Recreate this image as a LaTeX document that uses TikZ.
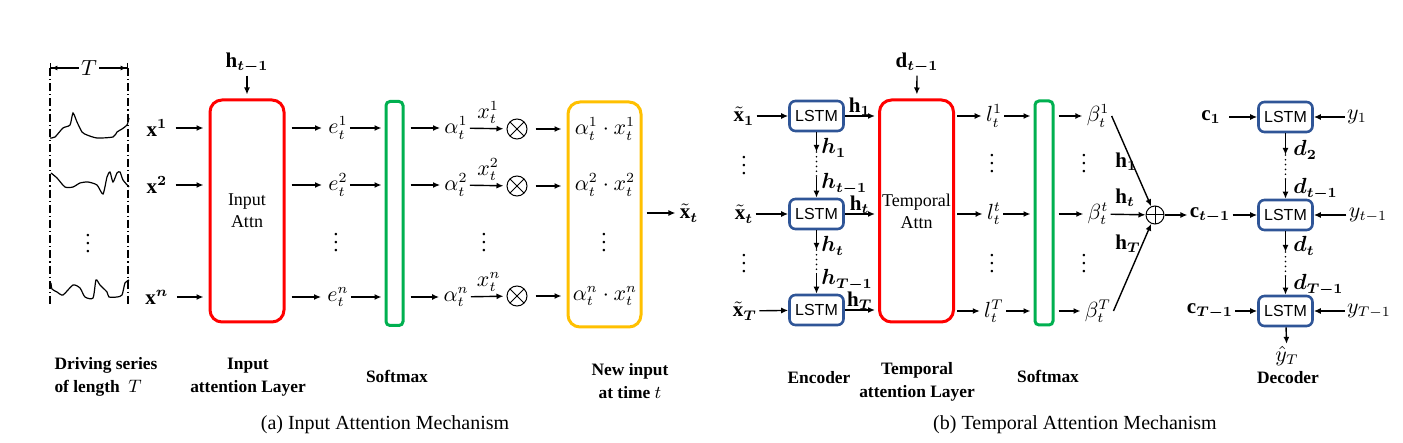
\documentclass[tikz,border=0pt]{standalone}
\usepackage{amsmath,bm}
\usepackage{fontspec}
\setmainfont{Liberation Serif}
\newfontfamily\lstmfont{Liberation Sans}
\usetikzlibrary{arrows.meta}

\definecolor{attnred}{RGB}{255,0,0}
\definecolor{softgreen}{RGB}{0,176,80}
\definecolor{newyellow}{RGB}{255,192,0}
\definecolor{lstmblue}{RGB}{47,85,151}

\begin{document}
\begin{tikzpicture}[x=0.5pt,y=-0.5pt,
    font=\fontsize{10.5}{12}\selectfont,
    every node/.style={inner sep=1pt},
    arr/.style={-{Latex[length=3.5pt,width=3pt]}, line width=0.7pt},
    tbar/.style={-{Latex[length=3pt,width=2.5pt]Bar[width=5pt]}, line width=0.7pt},
    dashdot/.style={line width=0.6pt, dash pattern=on 4pt off 1.5pt on 0.6pt off 1.5pt},
    wave/.style={line width=0.6pt, smooth, tension=0.4},
    chain/.style={line width=0.9pt, line cap=round, dash pattern=on 0pt off 2.4pt},
    capt/.style={font=\fontsize{8.7}{11.5}\selectfont\bfseries, align=center},
    attnbox/.style={draw=attnred, line width=1.5pt, rounded corners=6pt, minimum width=37pt,
      minimum height=111pt, align=center, font=\fontsize{9}{11}\selectfont},
    softbox/.style={draw=softgreen, line width=1.5pt, rounded corners=2pt, minimum width=8.5pt,
      minimum height=112pt},
    newbox/.style={draw=newyellow, line width=1.5pt, rounded corners=6pt, minimum width=36.5pt,
      minimum height=112.5pt},
    lstm/.style={draw=lstmblue, line width=1.3pt, rounded corners=3pt, minimum width=27pt,
      minimum height=15pt, font=\lstmfont\fontsize{8}{9}\selectfont},
    otimes/.style={circle, draw, line width=0.5pt, minimum size=10pt, inner sep=0pt,
      path picture={\draw[line width=0.5pt]
        (path picture bounding box.north west) -- (path picture bounding box.south east)
        (path picture bounding box.north east) -- (path picture bounding box.south west);}},
    oplus/.style={circle, draw, line width=0.5pt, minimum size=9pt, inner sep=0pt,
      path picture={\draw[line width=0.5pt]
        (path picture bounding box.north) -- (path picture bounding box.south)
        (path picture bounding box.east) -- (path picture bounding box.west);}}]
  \useasboundingbox (0,0) rectangle (1403,443);

  % (a) input attention
  \coordinate (tl) at (50,68);
  \coordinate (tr) at (128,68);
  \coordinate (bl) at (50,305);
  \coordinate (br) at (128,305);
  \node (T) at (89,68) {$T$};
  \draw[tbar] (T) -- (tl);
  \draw[tbar] (T) -- (tr);
  \draw[dashdot] (tl) -- (bl);
  \draw[dashdot] (tr) -- (br);
  \draw[wave] plot coordinates {(50,138) (55,137) (63,128) (70,125) (73,113) (77,122) (82,132)
    (87,135) (97,138) (113,137) (117,132) (122,129) (127,125) (129,118)};
  \draw[wave] plot coordinates {(51,173) (57,178) (65,187) (73,187) (80,183) (88,182) (97,185)
    (103,194) (107,177) (110,172) (113,182) (117,173) (120,172) (123,180) (129,187)};
  \draw[wave] plot coordinates {(51,283) (52,289) (57,292) (63,295) (73,285) (80,288) (85,297)
    (93,298) (96,280) (100,285) (107,292) (109,297) (117,297) (122,295) (125,283) (129,280)};
  \node (sdots) at (88,238) {$\vdots$};

  \node (xa) at (157,128) {$\mathbf{x}^{\bm{1}}$};
  \node (xb) at (157,185) {$\mathbf{x}^{\bm{2}}$};
  \node (xn) at (157,297) {$\mathbf{x}^{\bm{n}}$};

  \node[attnbox] (attn) at (247,211) {Input\\Attn};
  \node (hprev) at (247,63) {$\mathbf{h}_{\bm{t-1}}$};
  \draw[arr, shorten >=2pt] (hprev) -- (attn);
  \draw[arr, shorten <=3pt, shorten >=2.5pt] (xa) -- (xa -| attn.west);
  \draw[arr, shorten <=3pt, shorten >=2.5pt] (xb) -- (xb -| attn.west);
  \draw[arr, shorten <=3pt, shorten >=2.5pt] (xn) -- (xn -| attn.west);

  \node (ea) at (338,128) {$e_t^1$};
  \node (eb) at (338,185) {$e_t^2$};
  \node (edots) at (336,237) {$\vdots$};
  \node (en) at (338,297) {$e_t^n$};
  \draw[arr, shorten <=3pt, shorten >=2pt] (attn.east |- ea) -- (ea);
  \draw[arr, shorten <=3pt, shorten >=2pt] (attn.east |- eb) -- (eb);
  \draw[arr, shorten <=3pt, shorten >=2pt] (attn.east |- en) -- (en);

  \node[softbox] (softa) at (394.5,213.5) {};
  \draw[arr, shorten >=1.5pt] (ea) -- (ea -| softa.west);
  \draw[arr, shorten >=1.5pt] (eb) -- (eb -| softa.west);
  \draw[arr, shorten >=1.5pt] (en) -- (en -| softa.west);

  \node (aa) at (456,128) {$\alpha_t^1$};
  \node (ab) at (456,185) {$\alpha_t^2$};
  \node (adots) at (484,237) {$\vdots$};
  \node (an) at (456,297) {$\alpha_t^n$};
  \draw[arr, shorten <=3pt, shorten >=1pt] (softa.east |- aa) -- (aa);
  \draw[arr, shorten <=3pt, shorten >=1pt] (softa.east |- ab) -- (ab);
  \draw[arr, shorten <=3pt, shorten >=1pt] (softa.east |- an) -- (an);

  \node[otimes] (ma) at (517,129) {};
  \node[otimes] (mb) at (517,186) {};
  \node[otimes] (mn) at (517,296) {};
  \draw[arr, shorten >=1.5pt] (aa) -- node[above=1pt] {$x_t^1$} (ma);
  \draw[arr, shorten >=1.5pt] (ab) -- node[above=1pt] {$x_t^2$} (mb);
  \draw[arr, shorten >=1.5pt] (an) -- node[above=1pt] {$x_t^n$} (mn);

  \node[newbox] (newin) at (604.5,214.5) {};
  \draw[arr, shorten <=4pt, shorten >=2.5pt] (ma) -- (ma -| newin.west);
  \draw[arr, shorten <=4pt, shorten >=2.5pt] (mb) -- (mb -| newin.west);
  \draw[arr, shorten <=4pt, shorten >=2.5pt] (mn) -- (mn -| newin.west);
  \node (pa) at (605,129) {$\alpha_t^1\cdot x_t^1$};
  \node (pb) at (605,185) {$\alpha_t^2\cdot x_t^2$};
  \node (pdots) at (604,237) {$\vdots$};
  \node (pn) at (605,296) {$\alpha_t^n\cdot x_t^n$};

  \node (xt) at (689,213) {$\tilde{\mathbf{x}}_{\bm{t}}$};
  \draw[arr, shorten <=2pt, shorten >=1pt] (newin.east |- xt) -- (xt);

  \node[capt, align=left] (cdrive) at (106,377) {Driving series\\of length \ $T$};
  \node[capt] (cinput) at (248,377) {Input\\attention Layer};
  \node[capt] (csofta) at (397,376) {Softmax};
  \node[capt] (cnew) at (630,381) {New input\\at time $t$};
  \node[font=\fontsize{10}{12}\selectfont] (capa) at (385,425) {(a) Input Attention Mechanism};

  % (b) temporal attention
  \node (xta) at (744,116) {$\tilde{\mathbf{x}}_{\bm{1}}$};
  \node (xtdots1) at (744,160) {$\vdots$};
  \node (xtt) at (744,214) {$\tilde{\mathbf{x}}_{\bm{t}}$};
  \node (xtdots2) at (744,258) {$\vdots$};
  \node (xtT) at (745,311) {$\tilde{\mathbf{x}}_{\bm{T}}$};

  \node[lstm] (enca) at (816.5,116) {LSTM};
  \node[lstm] (enct) at (816.5,214) {LSTM};
  \node[lstm] (encT) at (816.5,310) {LSTM};
  \draw[arr] (xta) -- (enca);
  \draw[arr] (xtt) -- (enct);
  \draw[arr] (xtT) -- (encT);

  \coordinate (ha1) at (816.5,152);
  \coordinate (hb1) at (816.5,177);
  \coordinate (ha2) at (816.5,250);
  \coordinate (hb2) at (816.5,273);
  \draw[arr] (enca) -- (ha1);
  \draw[chain] (ha1) -- (hb1);
  \draw[arr] (hb1) -- (enct);
  \draw[arr] (enct) -- (ha2);
  \draw[chain] (ha2) -- (hb2);
  \draw[arr] (hb2) -- (encT);
  \node[anchor=west] (lh1) at (819,148) {$\bm{h}_{\bm{1}}$};
  \node[anchor=west] (lhtm) at (819,184) {$\bm{h}_{\bm{t-1}}$};
  \node[anchor=west] (lht) at (819,246) {$\bm{h}_{\bm{t}}$};
  \node[anchor=west] (lhTm) at (819,280) {$\bm{h}_{\bm{T-1}}$};

  \node[attnbox] (tattn) at (916.5,211) {Temporal\\Attn};
  \node (dprev) at (917,63) {$\mathbf{d}_{\bm{t-1}}$};
  \draw[arr, shorten >=2pt] (dprev) -- (tattn);
  \draw[arr, shorten >=1.5pt] (enca) -- node[above=-1pt, pos=0.45] {$\mathbf{h}_{\bm{1}}$} (enca -| tattn.west);
  \draw[arr, shorten >=1.5pt] (enct) -- node[above=-1pt, pos=0.45] {$\mathbf{h}_{\bm{t}}$} (enct -| tattn.west);
  \draw[arr, shorten >=1.5pt] (encT) -- node[above=-1pt, pos=0.45] {$\mathbf{h}_{\bm{T}}$} (encT -| tattn.west);

  \node (la) at (994,116) {$l_t^1$};
  \node (ldots1) at (992,158) {$\vdots$};
  \node (lt) at (994,214) {$l_t^t$};
  \node (ldots2) at (992,258) {$\vdots$};
  \node (lT) at (994,311) {$l_t^T$};
  \draw[arr, shorten <=1pt, shorten >=1pt] (tattn.east |- la) -- (la);
  \draw[arr, shorten <=1pt, shorten >=1pt] (tattn.east |- lt) -- (lt);
  \draw[arr, shorten <=1pt, shorten >=1pt] (tattn.east |- lT) -- (lT);

  \node[softbox, minimum width=9pt] (softb) at (1044,213) {};
  \draw[arr, shorten >=1.5pt] (la) -- (la -| softb.west);
  \draw[arr, shorten >=1.5pt] (lt) -- (lt -| softb.west);
  \draw[arr, shorten >=1.5pt] (lT) -- (lT -| softb.west);

  \node (ba) at (1098,116) {$\beta_t^1$};
  \node (bdots1) at (1084,158) {$\vdots$};
  \node (bt) at (1098,214) {$\beta_t^t$};
  \node (bdots2) at (1084,258) {$\vdots$};
  \node (bT) at (1098,311) {$\beta_t^T$};
  \draw[arr, shorten <=2pt, shorten >=1pt] (softb.east |- ba) -- (ba);
  \draw[arr, shorten <=2pt, shorten >=1pt] (softb.east |- bt) -- (bt);
  \draw[arr, shorten <=2pt, shorten >=1pt] (softb.east |- bT) -- (bT);

  \node[oplus] (sum) at (1155,215) {};
  \draw[arr] (ba.east) -- (sum);
  \draw[arr] (bt) -- (sum);
  \draw[arr] (bT.east) -- (sum);
  \node[anchor=west] (sh1) at (1113,162) {$\mathbf{h}_{\bm{1}}$};
  \node[anchor=west] (sht) at (1113,198) {$\mathbf{h}_{\bm{t}}$};
  \node[anchor=west] (shT) at (1113,244) {$\mathbf{h}_{\bm{T}}$};

  \node (ca) at (1211,117) {$\mathbf{c}_{\bm{1}}$};
  \node (ct) at (1210,215) {$\mathbf{c}_{\bm{t-1}}$};
  \node (cT) at (1210,311) {$\mathbf{c}_{\bm{T-1}}$};
  \draw[arr] (sum) -- (ct);

  \node[lstm] (deca) at (1285.5,117) {LSTM};
  \node[lstm] (dect) at (1285.5,215) {LSTM};
  \node[lstm] (decT) at (1285.5,311) {LSTM};
  \draw[arr, shorten <=3pt] (ca) -- (deca);
  \draw[arr] (ct) -- (dect);
  \draw[arr] (cT) -- (decT);

  \node (ya) at (1357,117) {$y_1$};
  \node (yt) at (1368,215) {$y_{t-1}$};
  \node (yT) at (1369,311) {$y_{T-1}$};
  \draw[arr] (ya) -- (deca);
  \draw[arr] (yt) -- (dect);
  \draw[arr] (yT) -- (decT);

  \coordinate (da1) at (1285.5,155);
  \coordinate (db1) at (1285.5,179);
  \coordinate (da2) at (1285.5,252);
  \coordinate (db2) at (1285.5,276);
  \draw[arr] (deca) -- (da1);
  \draw[chain] (da1) -- (db1);
  \draw[arr] (db1) -- (dect);
  \draw[arr] (dect) -- (da2);
  \draw[chain] (da2) -- (db2);
  \draw[arr] (db2) -- (decT);
  \node[anchor=west] (ld2) at (1291,150) {$\bm{d}_{\bm{2}}$};
  \node[anchor=west] (ldtm) at (1291,189) {$\bm{d}_{\bm{t-1}}$};
  \node[anchor=west] (ldt) at (1291,246) {$\bm{d}_{\bm{t}}$};
  \node[anchor=west] (ldTm) at (1291,285) {$\bm{d}_{\bm{T-1}}$};

  \node (yhat) at (1287,356) {$\hat{y}_T$};
  \draw[arr] (decT) -- (yhat);

  \node[capt] (cenc) at (819,378) {Encoder};
  \node[capt] (ctemp) at (917,382) {Temporal\\attention Layer};
  \node[capt] (csoftb) at (1048,376) {Softmax};
  \node[capt] (cdec) at (1288,378) {Decoder};
  \node[font=\fontsize{10}{12}\selectfont] (capb) at (1075,425) {(b) Temporal Attention Mechanism};
\end{tikzpicture}
\end{document}
